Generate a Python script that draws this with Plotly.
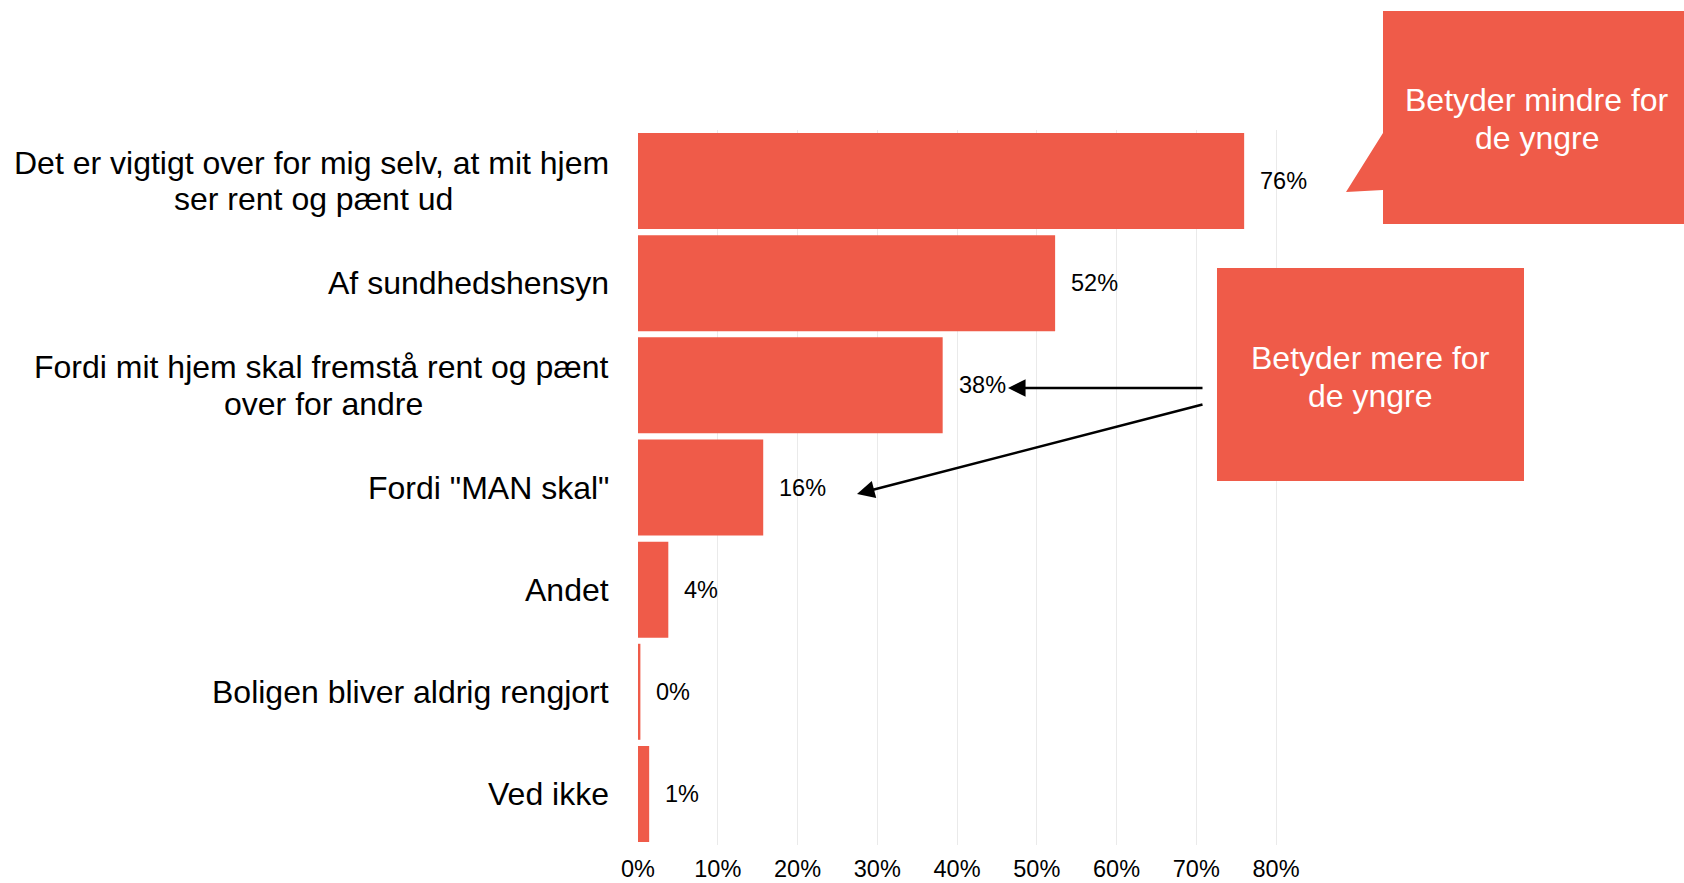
import plotly.graph_objects as go

categories = [
    "Det er vigtigt over for mig selv, at mit hjem<br>ser rent og pænt ud",
    "Af sundhedshensyn",
    "Fordi mit hjem skal fremstå rent og pænt<br>over for andre",
    "Fordi \"MAN skal\"",
    "Andet",
    "Boligen bliver aldrig rengjort",
    "Ved ikke",
]
values = [0.76, 0.523, 0.382, 0.157, 0.038, 0.003, 0.014]
callout_less = "Betyder mindre for<br>de yngre"
callout_more = "Betyder mere for<br>de yngre"

W, H = 1684, 883
L, R, T, B = 638, 392, 130, 38
PW = W - L - R
PH = H - T - B
XMAX = 0.82

RED = "#EF5B49"
FONT = "Liberation Sans, Arial, sans-serif"


def px(x):
    return (x - L) / PW


def py(y):
    return (H - B - y) / PH


def path(points):
    s = ""
    for i, (x, y) in enumerate(points):
        s += ("M" if i == 0 else "L") + f"{px(x):.5f},{py(y):.5f} "
    return s + "Z"


def multiline(text, spacing, **kw):
    lines = text.split("<br>")
    n = len(lines)
    out = []
    for i, line in enumerate(lines):
        d = dict(kw)
        d["text"] = line
        d["yshift"] = ((n - 1) / 2 - i) * spacing
        out.append(d)
    return out


fig = go.Figure()
fig.add_trace(go.Bar(
    y=categories, x=values, orientation="h",
    marker=dict(color=RED, line=dict(width=0)),
    hoverinfo="skip",
))

annotations = []
# category labels (centre-aligned lines, right edge next to the axis)
for c in categories:
    lines = c.split("<br>")
    n = len(lines)
    if n == 1:
        annotations.append(dict(
            text=c, xref="paper", x=0, xanchor="right", xshift=-27,
            yref="y", y=c, yanchor="middle", showarrow=False,
            font=dict(family=FONT, size=32, color="#000000"),
        ))
    else:
        longest = max(lines, key=len)
        for i, line in enumerate(lines):
            a = dict(
                text=line, xref="paper", x=0, xanchor="right", xshift=-27,
                yref="y", y=c, yanchor="middle", showarrow=False,
                yshift=((n - 1) / 2 - i) * 36.7,
                font=dict(family=FONT, size=32, color="#000000"),
            )
            if line != longest:
                a["name"] = "center_line"
            annotations.append(a)

# value labels
for c, v in zip(categories, values):
    annotations.append(dict(
        text=f"{round(v * 100):.0f}%", xref="x", x=v, xanchor="left", xshift=14,
        yref="y", y=c, yanchor="middle", showarrow=False,
        font=dict(family=FONT, size=23.5, color="#000000"),
    ))

# callout texts
annotations += multiline(callout_less, 38.7, xref="paper", yref="paper",
                         x=px(1537), y=py(119), xanchor="center", yanchor="middle",
                         showarrow=False, font=dict(family=FONT, size=32, color="#FFFFFF"))
annotations += multiline(callout_more, 38.7, xref="paper", yref="paper",
                         x=px(1370), y=py(377), xanchor="center", yanchor="middle",
                         showarrow=False, font=dict(family=FONT, size=32, color="#FFFFFF"))

# arrows from the "mere" callout
annotations.append(dict(
    text="", xref="paper", yref="paper", x=px(1008), y=py(388),
    ax=1204 - 1008, ay=0, axref="pixel", ayref="pixel",
    showarrow=True, arrowhead=2, arrowsize=1.35, arrowwidth=2.6, arrowcolor="#000000",
))
annotations.append(dict(
    text="", xref="paper", yref="paper", x=px(857), y=py(494),
    ax=1204 - 857, ay=404 - 494, axref="pixel", ayref="pixel",
    showarrow=True, arrowhead=2, arrowsize=1.35, arrowwidth=2.6, arrowcolor="#000000",
))

shapes = [
    dict(type="path", xref="paper", yref="paper", layer="above",
         path=path([(1383, 11), (1720, 11), (1720, 224), (1383, 224),
                    (1383, 190), (1346, 192), (1383, 133)]),
         fillcolor=RED, line=dict(width=0)),
    dict(type="path", xref="paper", yref="paper", layer="above",
         path=path([(1217, 268), (1524, 268), (1524, 481), (1217, 481)]),
         fillcolor=RED, line=dict(width=0)),
]

fig.update_layout(
    width=W, height=H,
    margin=dict(l=L, r=R, t=T, b=B, autoexpand=False),
    paper_bgcolor="white", plot_bgcolor="white",
    showlegend=False, bargap=0.06,
    font=dict(family=FONT, size=22, color="#000000"),
    annotations=annotations, shapes=shapes,
    xaxis=dict(
        range=[0, XMAX], dtick=0.1, tick0=0, tickformat=".0%",
        showgrid=True, gridcolor="#EAEAEA", gridwidth=1, zeroline=False,
        showline=False, ticks="outside", ticklen=3, tickcolor="rgba(0,0,0,0)",
        tickfont=dict(family=FONT, size=23.5, color="#000000"), automargin=False,
        fixedrange=True,
    ),
    yaxis=dict(
        autorange="reversed", showticklabels=False, showgrid=False,
        zeroline=False, showline=False, ticks="", automargin=False, fixedrange=True,
    ),
)

# Centre the shorter second line of each two-line label under its first line.
post = """
document.body.style.margin='0';
document.body.style.overflow='hidden';
var gd = document.getElementsByClassName('plotly-graph-div')[0];
(function(){
  var anns = gd.layout.annotations;
  var groups = gd.querySelectorAll('.annotation');
  var upd = {};
  for (var i=0;i<anns.length;i++){
    if (anns[i].name !== 'center_line') continue;
    for (var j=i-1;j>=0;j--){
      if (anns[j].y === anns[i].y && anns[j].name !== 'center_line'){
        var w = groups[j].querySelector('text').getBBox().width;
        upd['annotations['+i+'].xanchor'] = 'center';
        upd['annotations['+i+'].xshift'] = -27 - w/2;
        break;
      }
    }
  }
  Plotly.relayout(gd, upd);
})();
"""

fig.write_html("out.html", post_script=post, config={"displayModeBar": False})
